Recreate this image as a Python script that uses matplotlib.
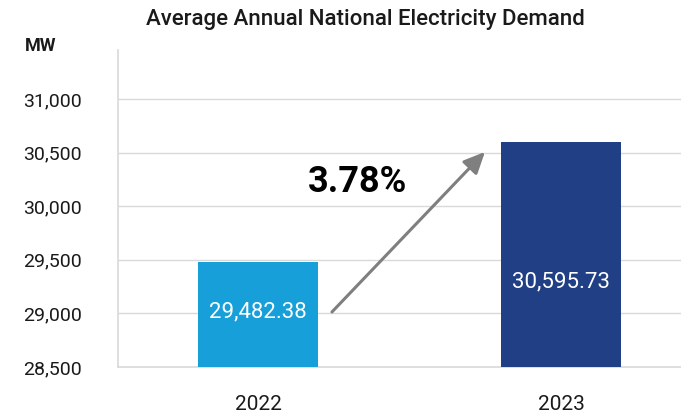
import matplotlib
matplotlib.use("Agg")
import matplotlib.pyplot as plt

# Average annual national electricity demand (MW)
years = ["2022", "2023"]
demand_mw = [29482.38, 30595.73]
growth_label = "3.78%"
y_ticks = [28500, 29000, 29500, 30000, 30500, 31000]

bar_colors = ["#179FDA", "#213F84"]
grid_color = "#D9D9D9"

plt.rcParams["font.family"] = ["Roboto", "DejaVu Sans"]

fig = plt.figure(figsize=(6.81, 4.15), dpi=100)
ax = fig.add_axes([0.1733, 0.1157, 0.8267, 0.7639])

x = list(range(len(years)))
ax.bar(x, demand_mw, width=0.396, color=bar_colors, zorder=3)

ax.set_xlim(-0.462, 1.396)
ax.set_ylim(28500, 31457)
ax.set_yticks(y_ticks)
ax.set_yticklabels([f"{v:,}" for v in y_ticks], fontsize=14, color="#1a1a1a")
ax.set_xticks(x)
ax.set_xticklabels(years, fontsize=15, color="#1a1a1a")
ax.tick_params(axis="both", length=0)
ax.tick_params(axis="y", pad=26)
ax.tick_params(axis="x", pad=20)

ax.grid(axis="y", color=grid_color, linewidth=1, zorder=0)
for side in ["top", "right"]:
    ax.spines[side].set_visible(False)
for side in ["left", "bottom"]:
    ax.spines[side].set_color(grid_color)
    ax.spines[side].set_linewidth(1.2)

# value labels inside the bars
label_y = [29013, 29293]
for xi, v, ly in zip(x, demand_mw, label_y):
    ax.text(xi, ly, f"{v:,.2f}", ha="center", va="center",
            color="white", fontsize=16, zorder=4)

# growth arrow and percentage
ax.annotate("", xy=(0.749, 30506), xytext=(0.244, 29013),
            arrowprops=dict(arrowstyle="-|>,head_length=1.3,head_width=0.6",
                            color="#7F7F7F", lw=2.2, shrinkA=0, shrinkB=0),
            zorder=5)
ax.text(0.327, 30226, growth_label, ha="center", va="center",
        fontsize=26, fontweight="bold", color="black")

fig.text(0.537, 0.953, "Average Annual National Electricity Demand",
         ha="center", va="center", fontsize=16, fontweight="medium",
         color="#1a1a1a")
fig.text(0.036, 0.89, "MW", ha="left", va="center", fontsize=13,
         fontweight="bold", color="#1a1a1a")

fig.savefig("out.png", dpi=100)
